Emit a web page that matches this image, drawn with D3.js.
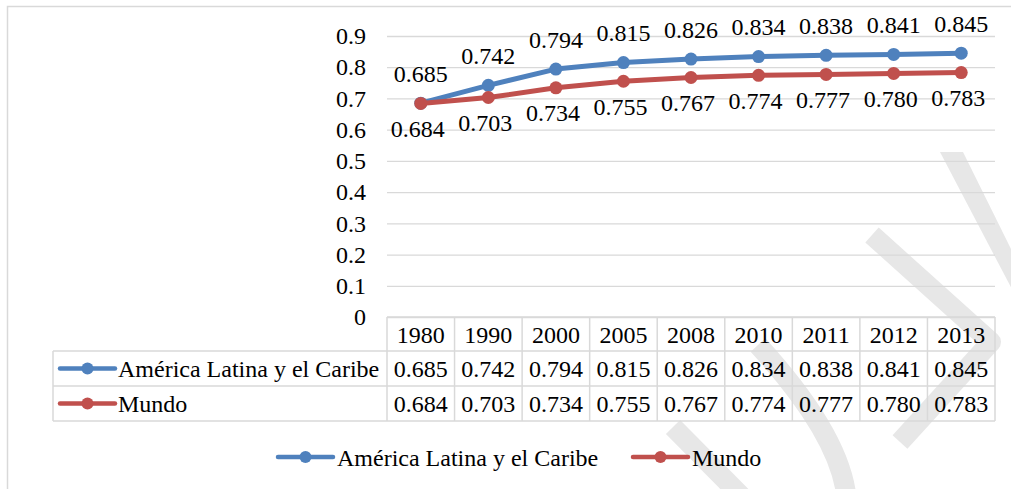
<!DOCTYPE html>
<html>
<head>
<meta charset="utf-8">
<script src="https://cdn.jsdelivr.net/npm/d3@7"></script>
<style>
  html, body { margin: 0; padding: 0; background: #fff; }
  svg { display: block; }
</style>
</head>
<body>
<svg id="chart" width="1011" height="489"></svg>
<script>
// ---- data ----
const years = ["1980", "1990", "2000", "2005", "2008", "2010", "2011", "2012", "2013"];
const latam = [0.685, 0.742, 0.794, 0.815, 0.826, 0.834, 0.838, 0.841, 0.845];
const mundo = [0.684, 0.703, 0.734, 0.755, 0.767, 0.774, 0.777, 0.780, 0.783];
const seriesNames = ["América Latina y el Caribe", "Mundo"];
const yTicks = [0, 0.1, 0.2, 0.3, 0.4, 0.5, 0.6, 0.7, 0.8, 0.9];

const colors = ["#4F81BD", "#C0504D"];
const series = [
  { name: seriesNames[0], values: latam, color: colors[0] },
  { name: seriesNames[1], values: mundo, color: colors[1] }
];

const svg = d3.select("#chart");
const gridColor = "#d9d9d9";
const txt = sel => sel.style("font-family", '"Liberation Serif"')
  .style("font-size", "24px").attr("fill", "#000");

// outer chart border (extends past the picture on right/bottom)
svg.append("rect").attr("x", 7.5).attr("y", 6.5).attr("width", 1040).attr("height", 520)
  .attr("fill", "#fff").attr("stroke", "#d9d9d9").attr("stroke-width", 1.5);

// watermark (decorative, light grey strokes)
const wm = svg.append("g").attr("fill", "none").attr("stroke", "#e7e7e7").attr("stroke-width", 20);
wm.append("path").attr("d", "M673,427 L765,520");
wm.append("path").attr("d", "M758,345 Q845,440 847,505");
wm.append("path").attr("d", "M872,235 L991,342 L900,442").attr("stroke-linejoin", "round");
svg.append("path").attr("d", "M940,152 L963,152 L1015,257 L1015,295 Z").attr("fill", "#e7e7e7");

// scales
const x = d3.scaleBand().domain(years).range([387, 995]).padding(0);
const cx = d => x(d) + x.bandwidth() / 2;
const y = d3.scaleLinear().domain([0, 0.9]).range([317, 36]);

// y axis with gridlines
const yAxis = d3.axisLeft(y).tickValues(yTicks).tickSize(-(995 - 387)).tickPadding(21)
  .tickFormat(d => d === 0 ? "0" : d3.format(".1f")(d));
const ga = svg.append("g").attr("transform", "translate(387,0)").call(yAxis)
  .attr("font-family", null).attr("font-size", null);
ga.select(".domain").remove();
ga.selectAll(".tick line").attr("stroke", gridColor).attr("stroke-width", 1.3);
ga.selectAll(".tick text").call(txt);

// data table
const tLeft = 53, tRight = 995;
const rowTops = [317, 351, 386, 421];
const tg = svg.append("g").attr("stroke", gridColor).attr("stroke-width", 1.5);
tg.append("line").attr("x1", 387).attr("x2", tRight).attr("y1", rowTops[0]).attr("y2", rowTops[0]);
[1, 2, 3].forEach(i => tg.append("line").attr("x1", tLeft).attr("x2", tRight).attr("y1", rowTops[i]).attr("y2", rowTops[i]));
tg.append("line").attr("x1", tLeft).attr("x2", tLeft).attr("y1", rowTops[1]).attr("y2", rowTops[3]);
years.forEach(yr => tg.append("line").attr("x1", x(yr)).attr("x2", x(yr)).attr("y1", rowTops[0]).attr("y2", rowTops[3]));
tg.append("line").attr("x1", tRight).attr("x2", tRight).attr("y1", rowTops[0]).attr("y2", rowTops[3]);

// header row
svg.append("g").selectAll("text").data(years).join("text")
  .attr("x", d => cx(d)).attr("y", (rowTops[0] + rowTops[1]) / 2 + 8.5)
  .attr("text-anchor", "middle").call(txt).text(d => d);

// value rows
series.forEach((s, i) => {
  const mid = (rowTops[i + 1] + rowTops[i + 2]) / 2;
  svg.append("g").selectAll("text").data(s.values).join("text")
    .attr("x", (d, j) => cx(years[j])).attr("y", mid + 8.5)
    .attr("text-anchor", "middle").call(txt).text(d => d3.format(".3f")(d));
  svg.append("line").attr("x1", 60).attr("x2", 115).attr("y1", mid).attr("y2", mid)
    .attr("stroke", s.color).attr("stroke-width", 4.5).attr("stroke-linecap", "round");
  svg.append("circle").attr("cx", 87.5).attr("cy", mid).attr("r", 6).attr("fill", s.color);
  svg.append("text").attr("x", 118).attr("y", mid + 8.5).call(txt).text(s.name);
});

// lines + markers
const line = d3.line().x((d, j) => cx(years[j])).y(d => y(d));
series.forEach(s => {
  svg.append("path").datum(s.values).attr("d", line).attr("fill", "none")
    .attr("stroke", s.color).attr("stroke-width", 5).attr("stroke-linejoin", "round");
  svg.append("g").selectAll("circle").data(s.values).join("circle")
    .attr("cx", (d, j) => cx(years[j])).attr("cy", d => y(d)).attr("r", 6.5).attr("fill", s.color);
});

// data labels
svg.append("g").selectAll("text").data(latam).join("text")
  .attr("x", (d, j) => cx(years[j])).attr("y", d => y(d) - 21.5)
  .attr("text-anchor", "middle").call(txt).text(d => d3.format(".3f")(d));
svg.append("g").selectAll("text").data(mundo).join("text")
  .attr("x", (d, j) => cx(years[j]) - 3).attr("y", d => y(d) + 33.5)
  .attr("text-anchor", "middle").call(txt).text(d => d3.format(".3f")(d));

// bottom legend
const legendItems = [
  { x1: 278, x2: 333, tx: 337 },
  { x1: 633, x2: 688, tx: 692 }
];
const ly = 457;
series.forEach((s, i) => {
  const L = legendItems[i];
  svg.append("line").attr("x1", L.x1).attr("x2", L.x2).attr("y1", ly).attr("y2", ly)
    .attr("stroke", s.color).attr("stroke-width", 4.5).attr("stroke-linecap", "round");
  svg.append("circle").attr("cx", (L.x1 + L.x2) / 2).attr("cy", ly).attr("r", 6).attr("fill", s.color);
  svg.append("text").attr("x", L.tx).attr("y", ly + 8.5).call(txt).text(s.name);
});
</script>
</body>
</html>
